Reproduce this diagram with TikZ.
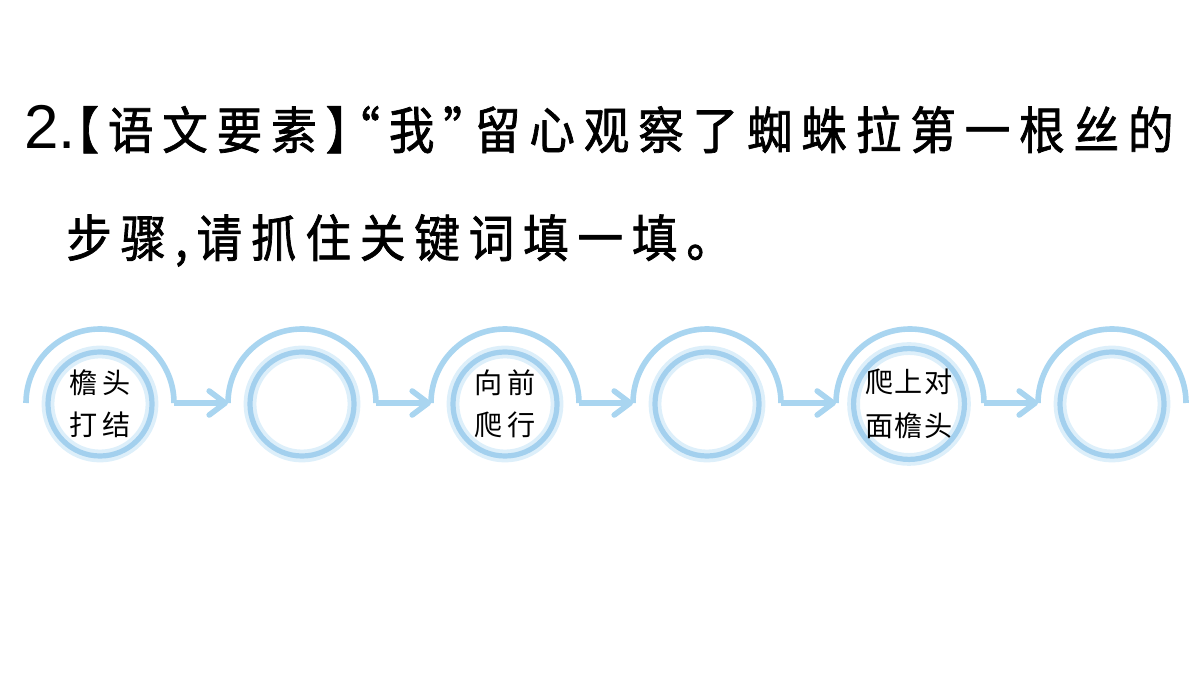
\documentclass[tikz,border=0pt]{standalone}
\usepackage{fontspec}
\usetikzlibrary{arrows.meta}
\newfontfamily\heiti[FakeBold=1.4, FakeStretch=0.9, RawFeature=+halt]{Noto Sans CJK SC}
\newfontfamily\kaiti{Noto Sans CJK SC}
\newfontfamily\arial{Liberation Sans}
\definecolor{ringblue}{HTML}{A3D0EE}
\definecolor{glowblue}{HTML}{DDEFFA}
\definecolor{trackblue}{HTML}{A9D5F0}

\begin{document}
\begin{tikzpicture}[x=0.025cm, y=0.025cm,
    stepcircle/.style={circle, draw=ringblue, line width=0.13cm,
        preaction={draw=glowblue, line width=0.32cm},
        minimum size=2.6cm, inner sep=0pt, align=center,
        font=\kaiti\fontsize{20}{30}\selectfont\addfontfeature{LetterSpace=18}},
    widetext/.style={font=\kaiti\fontsize{20}{31}\selectfont\addfontfeature{LetterSpace=4}},
    track/.style={trackblue, line width=0.14cm},
    flow/.style={trackblue, line width=0.14cm,
        -{Straight Barb[length=0.4cm, width=0.6cm, round]}},
    title/.style={anchor=base west, inner sep=0pt,
        font=\heiti\fontsize{36}{36}\selectfont\addfontfeature{LetterSpace=17.5}}]

    \useasboundingbox (0,0) rectangle (1200,675);

    % question text
    \node[anchor=base west, inner sep=0pt, font=\arial\fontsize{44}{44}\selectfont] (num) at (24,526) {2.\kern-4pt};
    \node[title] (line1) at (76,526) {【语文要素】“我”留心观察了蜘蛛拉第一根丝的};
    \node[title] (line2) at (66,418) {步骤,请抓住关键词填一填。};

    % ends of the half rings
    \coordinate (l1) at (26,272);   \coordinate (r1) at (174,272);
    \coordinate (l2) at (228,272);  \coordinate (r2) at (376,272);
    \coordinate (l3) at (431,272);  \coordinate (r3) at (579,272);
    \coordinate (l4) at (633,272);  \coordinate (r4) at (781,272);
    \coordinate (l5) at (836,272);  \coordinate (r5) at (984,272);
    \coordinate (l6) at (1038,272); \coordinate (r6) at (1186,272);

    \draw[track] (l1) arc[start angle=180, end angle=0, radius=74];
    \draw[track] (l2) arc[start angle=180, end angle=0, radius=74];
    \draw[track] (l3) arc[start angle=180, end angle=0, radius=74];
    \draw[track] (l4) arc[start angle=180, end angle=0, radius=74];
    \draw[track] (l5) arc[start angle=180, end angle=0, radius=74];
    \draw[track] (l6) arc[start angle=180, end angle=0, radius=74];

    % steps
    \node[stepcircle] (s1) at (100,271) {檐头\\打结};
    \node[stepcircle] (s2) at (302,271) {};
    \node[stepcircle] (s3) at (505,271) {向前\\爬行};
    \node[stepcircle] (s4) at (707,271) {};
    \node[stepcircle, widetext] (s5) at (909,271) {爬上对\\面檐头};
    \node[stepcircle] (s6) at (1112,271) {};

    \draw[flow] (r1) -- (l2);
    \draw[flow] (r2) -- (l3);
    \draw[flow] (r3) -- (l4);
    \draw[flow] (r4) -- (l5);
    \draw[flow] (r5) -- (l6);

\end{tikzpicture}
\end{document}
